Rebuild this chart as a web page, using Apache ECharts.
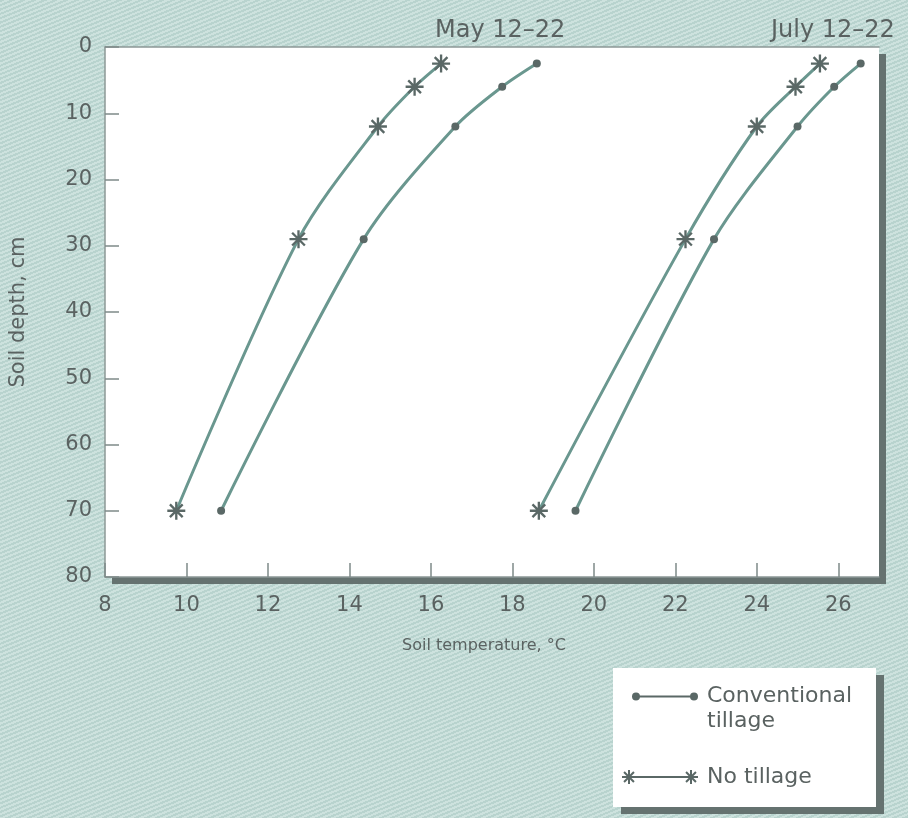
<!DOCTYPE html>
<html>
<head>
<meta charset="utf-8">
<script src="https://cdn.jsdelivr.net/npm/echarts@6/dist/echarts.min.js"></script>
<style>
html, body { margin: 0; padding: 0; }
body {
  width: 908px; height: 818px;
  background: repeating-linear-gradient(158deg, #b8d3ce 0px, #b8d3ce 2px, #cde2de 2px, #cde2de 4px);
}
#chart { width: 908px; height: 818px; }
</style>
</head>
<body>
<div id="chart"></div>
<script>
// ---- data ----
const depths = [2.5, 6, 12, 29, 70];                 // soil depth, cm
const mayConventional  = [18.6, 17.75, 16.6, 14.35, 10.85];
const mayNoTillage     = [16.25, 15.6, 14.7, 12.75, 9.75];
const julyConventional = [26.55, 25.9, 25.0, 22.95, 19.55];
const julyNoTillage    = [25.55, 24.95, 24.0, 22.25, 18.65];
const periodLabels = ['May 12–22', 'July 12–22'];
const seriesNames = ['Conventional tillage', 'No tillage'];
const xTitle = 'Soil temperature, °C';
const yTitle = 'Soil depth, cm';

// ---- symbol helpers (shapes only) ----
function asterisk(cx, cy, r, w) {
  let p = '';
  [0, 45, 90, 135].forEach(a => {
    const t = a * Math.PI / 180;
    const dx = Math.cos(t), dy = Math.sin(t);
    const nx = Math.sin(t), ny = -Math.cos(t);
    const pts = [
      [cx - r*dx + w*nx, cy - r*dy + w*ny],
      [cx + r*dx + w*nx, cy + r*dy + w*ny],
      [cx + r*dx - w*nx, cy + r*dy - w*ny],
      [cx - r*dx - w*nx, cy - r*dy - w*ny]
    ];
    p += 'M' + pts.map(q => q[0].toFixed(2) + ' ' + q[1].toFixed(2)).join(' L') + ' Z ';
  });
  return p;
}
function circle(cx, cy, r) {
  return `M${cx-r} ${cy} A${r} ${r} 0 1 1 ${cx+r} ${cy} A${r} ${r} 0 1 1 ${cx-r} ${cy} Z `;
}
function bar(x1, x2, cy, h) {
  return `M${x1} ${cy-h} L${x2} ${cy-h} L${x2} ${cy+h} L${x1} ${cy+h} Z `;
}
const box = 'M0 0 L0.02 0 L0 0.02 Z M80 50 L79.98 50 L80 49.98 Z ';
const starSymbol = 'path://' + asterisk(10, 10, 10, 1.3);
const convIcon = 'path://' + box + circle(14, 12.5, 4) + bar(14, 72, 12.5, 1.1) + circle(72, 12.5, 4);
const starIcon = 'path://' + box + asterisk(7, 25, 7, 1.0) + bar(7, 69, 25, 1.1) + asterisk(69, 25, 7, 1.0);

const FONT = 'DejaVu Sans';
const lineColor = '#6a978f';
const markColor = '#5a6866';
const textColor = '#5a6261';
const frameColor = '#8c9896';

function pairs(xs) { return xs.map((x, i) => [x, depths[i]]); }
function mkSeries(name, xs, star) {
  return {
    name: name, type: 'line', smooth: 0.3,
    data: pairs(xs),
    symbol: star ? starSymbol : 'circle',
    symbolSize: star ? 18 : 8,
    lineStyle: { color: lineColor, width: 3 },
    itemStyle: { color: markColor },
    emphasis: { disabled: true },
    z: 3
  };
}

const chart = echarts.init(document.getElementById('chart'), null, { renderer: 'canvas' });
chart.setOption({
  backgroundColor: 'transparent',
  animation: false,
  textStyle: { fontFamily: FONT, color: textColor },
  title: [
    { text: periodLabels[0], left: 430, top: 14, textStyle: { fontFamily: FONT, fontSize: 24, fontWeight: 'normal', color: textColor } },
    { text: periodLabels[1], left: 766, top: 14, textStyle: { fontFamily: FONT, fontSize: 24, fontWeight: 'normal', color: textColor } }
  ],
  grid: {
    left: 104, top: 47, width: 775, height: 530,
    show: true, backgroundColor: '#ffffff', borderWidth: 0,
    shadowColor: '#657270', shadowBlur: 0, shadowOffsetX: 7, shadowOffsetY: 7
  },
  xAxis: [{
    type: 'value', min: 8, max: 27, interval: 2, position: 'bottom',
    name: xTitle, nameLocation: 'middle', nameGap: 61,
    nameTextStyle: { fontFamily: FONT, fontSize: 16, color: textColor, padding: [0, 16, 0, 0] },
    axisLine: { show: true, onZero: false, lineStyle: { color: frameColor, width: 1.5 } },
    axisTick: { inside: true, length: 14, lineStyle: { color: '#7f8b89', width: 1.5 } },
    axisLabel: { fontFamily: FONT, fontSize: 21, color: textColor, margin: 18, showMaxLabel: false },
    splitLine: { show: false }
  }, {
    type: 'value', min: 8, max: 27, position: 'top',
    axisLine: { show: true, onZero: false, lineStyle: { color: frameColor, width: 1.5 } },
    axisTick: { show: false }, axisLabel: { show: false }, splitLine: { show: false }
  }],
  yAxis: {
    type: 'value', inverse: true, min: 0, max: 80, interval: 10, position: 'left',
    name: yTitle, nameLocation: 'middle', nameGap: 76, nameRotate: 90,
    nameTextStyle: { fontFamily: FONT, fontSize: 21, color: textColor },
    axisLine: { show: true, onZero: false, lineStyle: { color: frameColor, width: 1.5 } },
    axisTick: { inside: true, length: 14, lineStyle: { color: '#7f8b89', width: 1.5 } },
    axisLabel: { fontFamily: FONT, fontSize: 21, color: textColor, margin: 13 },
    splitLine: { show: false }
  },
  legend: {
    orient: 'vertical', left: 613, top: 668,
    padding: [16, 24, 5, 9],
    itemWidth: 80, itemHeight: 50, itemGap: 18,
    backgroundColor: '#ffffff',
    shadowColor: '#657270', shadowBlur: 0, shadowOffsetX: 8, shadowOffsetY: 7,
    selectedMode: false,
    data: [
      { name: seriesNames[0], icon: convIcon },
      { name: seriesNames[1], icon: starIcon }
    ],
    formatter: n => n === seriesNames[0] ? 'Conventional\ntillage' : n,
    textStyle: { fontFamily: FONT, fontSize: 22, color: textColor, lineHeight: 25 }
  },
  series: [
    mkSeries(seriesNames[0], mayConventional, false),
    mkSeries(seriesNames[1], mayNoTillage, true),
    mkSeries(seriesNames[0], julyConventional, false),
    mkSeries(seriesNames[1], julyNoTillage, true)
  ]
});
</script>
</body>
</html>
